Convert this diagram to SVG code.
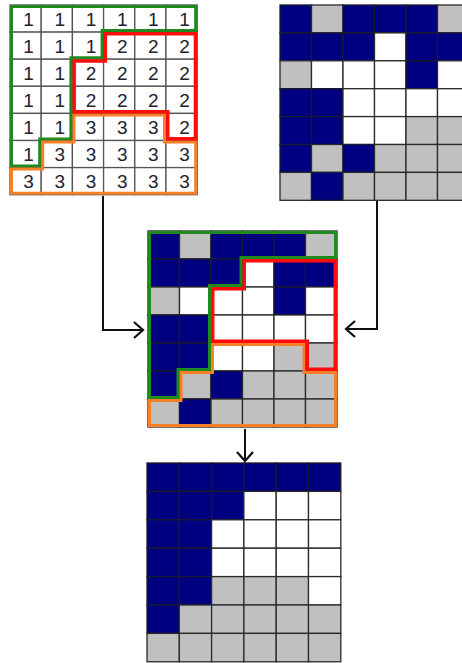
<svg xmlns="http://www.w3.org/2000/svg" width="462" height="663" viewBox="0 0 462 663">
<style>
.b{fill:#000080;stroke:#1a1a2a;stroke-width:1.3}
.g{fill:#c0c0c0;stroke:#2a2a2a;stroke-width:1.3}
.w{fill:#ffffff;stroke:#2a2a2a;stroke-width:1.3}
.tl{fill:#ffffff;stroke:#555555;stroke-width:1.3}
.n{font-family:"Liberation Sans",Arial,sans-serif;font-size:19px;fill:#222230;text-anchor:middle}
.rg{fill:none;stroke:#1f8a1f;stroke-width:6}
.rr{fill:none;stroke:#ff0d0d;stroke-width:7}
.ro{fill:none;stroke:#f77f25;stroke-width:6}
.arr{fill:none;stroke:#111111;stroke-width:2;marker-end:url(#chev)}
</style>
<defs>
<marker id="chev" viewBox="0 0 10 16" refX="9" refY="8" markerWidth="10" markerHeight="16" markerUnits="userSpaceOnUse" orient="auto" overflow="visible">
<path d="M0,0 L9,8 L0,16" fill="none" stroke="#111111" stroke-width="2.2"/>
</marker>
<clipPath id="tlG"><path id="ptlG" d="M10,5 H197.2 V32.1 H103.6 V59.2 H72.4 V140.5 H41.2 V167.6 H10 Z"/></clipPath>
<clipPath id="tlR"><path id="ptlR" d="M103.6,32.1 H197.2 V140.5 H166 V113.4 H72.4 V59.2 H103.6 Z"/></clipPath>
<clipPath id="tlO"><path id="ptlO" d="M72.4,113.4 H166 V140.5 H197.2 V194.7 H10 V167.6 H41.2 V140.5 H72.4 Z"/></clipPath>
<clipPath id="mG"><path id="pmG" d="M148,231 H337 V259 H242.5 V287 H211 V371 H179.5 V399 H148 Z"/></clipPath>
<clipPath id="mR"><path id="pmR" d="M242.5,259 H337 V371 H305.5 V343 H211 V287 H242.5 Z"/></clipPath>
<clipPath id="mO"><path id="pmO" d="M211,343 H305.5 V371 H337 V427 H148 V399 H179.5 V371 H211 Z"/></clipPath>
</defs>

<g id="labels-grid">
<rect class="tl" x="10" y="5" width="31.2" height="27.1"/><rect class="tl" x="41.2" y="5" width="31.2" height="27.1"/><rect class="tl" x="72.4" y="5" width="31.2" height="27.1"/><rect class="tl" x="103.6" y="5" width="31.2" height="27.1"/><rect class="tl" x="134.8" y="5" width="31.2" height="27.1"/><rect class="tl" x="166" y="5" width="31.2" height="27.1"/>
<rect class="tl" x="10" y="32.1" width="31.2" height="27.1"/><rect class="tl" x="41.2" y="32.1" width="31.2" height="27.1"/><rect class="tl" x="72.4" y="32.1" width="31.2" height="27.1"/><rect class="tl" x="103.6" y="32.1" width="31.2" height="27.1"/><rect class="tl" x="134.8" y="32.1" width="31.2" height="27.1"/><rect class="tl" x="166" y="32.1" width="31.2" height="27.1"/>
<rect class="tl" x="10" y="59.2" width="31.2" height="27.1"/><rect class="tl" x="41.2" y="59.2" width="31.2" height="27.1"/><rect class="tl" x="72.4" y="59.2" width="31.2" height="27.1"/><rect class="tl" x="103.6" y="59.2" width="31.2" height="27.1"/><rect class="tl" x="134.8" y="59.2" width="31.2" height="27.1"/><rect class="tl" x="166" y="59.2" width="31.2" height="27.1"/>
<rect class="tl" x="10" y="86.3" width="31.2" height="27.1"/><rect class="tl" x="41.2" y="86.3" width="31.2" height="27.1"/><rect class="tl" x="72.4" y="86.3" width="31.2" height="27.1"/><rect class="tl" x="103.6" y="86.3" width="31.2" height="27.1"/><rect class="tl" x="134.8" y="86.3" width="31.2" height="27.1"/><rect class="tl" x="166" y="86.3" width="31.2" height="27.1"/>
<rect class="tl" x="10" y="113.4" width="31.2" height="27.1"/><rect class="tl" x="41.2" y="113.4" width="31.2" height="27.1"/><rect class="tl" x="72.4" y="113.4" width="31.2" height="27.1"/><rect class="tl" x="103.6" y="113.4" width="31.2" height="27.1"/><rect class="tl" x="134.8" y="113.4" width="31.2" height="27.1"/><rect class="tl" x="166" y="113.4" width="31.2" height="27.1"/>
<rect class="tl" x="10" y="140.5" width="31.2" height="27.1"/><rect class="tl" x="41.2" y="140.5" width="31.2" height="27.1"/><rect class="tl" x="72.4" y="140.5" width="31.2" height="27.1"/><rect class="tl" x="103.6" y="140.5" width="31.2" height="27.1"/><rect class="tl" x="134.8" y="140.5" width="31.2" height="27.1"/><rect class="tl" x="166" y="140.5" width="31.2" height="27.1"/>
<rect class="tl" x="10" y="167.6" width="31.2" height="27.1"/><rect class="tl" x="41.2" y="167.6" width="31.2" height="27.1"/><rect class="tl" x="72.4" y="167.6" width="31.2" height="27.1"/><rect class="tl" x="103.6" y="167.6" width="31.2" height="27.1"/><rect class="tl" x="134.8" y="167.6" width="31.2" height="27.1"/><rect class="tl" x="166" y="167.6" width="31.2" height="27.1"/>
<text class="n" x="28.6" y="25.8">1</text><text class="n" x="59.8" y="25.8">1</text><text class="n" x="91" y="25.8">1</text><text class="n" x="122.2" y="25.8">1</text><text class="n" x="153.4" y="25.8">1</text><text class="n" x="184.6" y="25.8">1</text>
<text class="n" x="28.6" y="52.9">1</text><text class="n" x="59.8" y="52.9">1</text><text class="n" x="91" y="52.9">1</text><text class="n" x="122.2" y="52.9">2</text><text class="n" x="153.4" y="52.9">2</text><text class="n" x="184.6" y="52.9">2</text>
<text class="n" x="28.6" y="80">1</text><text class="n" x="59.8" y="80">1</text><text class="n" x="91" y="80">2</text><text class="n" x="122.2" y="80">2</text><text class="n" x="153.4" y="80">2</text><text class="n" x="184.6" y="80">2</text>
<text class="n" x="28.6" y="107.1">1</text><text class="n" x="59.8" y="107.1">1</text><text class="n" x="91" y="107.1">2</text><text class="n" x="122.2" y="107.1">2</text><text class="n" x="153.4" y="107.1">2</text><text class="n" x="184.6" y="107.1">2</text>
<text class="n" x="28.6" y="134.3">1</text><text class="n" x="59.8" y="134.3">1</text><text class="n" x="91" y="134.3">3</text><text class="n" x="122.2" y="134.3">3</text><text class="n" x="153.4" y="134.3">3</text><text class="n" x="184.6" y="134.3">2</text>
<text class="n" x="28.6" y="161.3">1</text><text class="n" x="59.8" y="161.3">3</text><text class="n" x="91" y="161.3">3</text><text class="n" x="122.2" y="161.3">3</text><text class="n" x="153.4" y="161.3">3</text><text class="n" x="184.6" y="161.3">3</text>
<text class="n" x="28.6" y="188.4">3</text><text class="n" x="59.8" y="188.4">3</text><text class="n" x="91" y="188.4">3</text><text class="n" x="122.2" y="188.4">3</text><text class="n" x="153.4" y="188.4">3</text><text class="n" x="184.6" y="188.4">3</text>
<use href="#ptlG" class="rg" clip-path="url(#tlG)"/>
<use href="#ptlO" class="ro" clip-path="url(#tlO)"/>
<use href="#ptlR" class="rr" clip-path="url(#tlR)"/>
</g>

<g id="source-grid">
<rect class="b" x="280" y="5" width="31.5" height="27.9"/><rect class="g" x="311.5" y="5" width="31.5" height="27.9"/><rect class="b" x="343" y="5" width="31.5" height="27.9"/><rect class="b" x="374.5" y="5" width="31.5" height="27.9"/><rect class="b" x="406" y="5" width="31.5" height="27.9"/><rect class="g" x="437.5" y="5" width="31.5" height="27.9"/>
<rect class="b" x="280" y="32.9" width="31.5" height="27.9"/><rect class="b" x="311.5" y="32.9" width="31.5" height="27.9"/><rect class="b" x="343" y="32.9" width="31.5" height="27.9"/><rect class="w" x="374.5" y="32.9" width="31.5" height="27.9"/><rect class="b" x="406" y="32.9" width="31.5" height="27.9"/><rect class="b" x="437.5" y="32.9" width="31.5" height="27.9"/>
<rect class="g" x="280" y="60.8" width="31.5" height="27.9"/><rect class="w" x="311.5" y="60.8" width="31.5" height="27.9"/><rect class="w" x="343" y="60.8" width="31.5" height="27.9"/><rect class="w" x="374.5" y="60.8" width="31.5" height="27.9"/><rect class="b" x="406" y="60.8" width="31.5" height="27.9"/><rect class="w" x="437.5" y="60.8" width="31.5" height="27.9"/>
<rect class="b" x="280" y="88.7" width="31.5" height="27.9"/><rect class="b" x="311.5" y="88.7" width="31.5" height="27.9"/><rect class="w" x="343" y="88.7" width="31.5" height="27.9"/><rect class="w" x="374.5" y="88.7" width="31.5" height="27.9"/><rect class="w" x="406" y="88.7" width="31.5" height="27.9"/><rect class="w" x="437.5" y="88.7" width="31.5" height="27.9"/>
<rect class="b" x="280" y="116.6" width="31.5" height="27.9"/><rect class="b" x="311.5" y="116.6" width="31.5" height="27.9"/><rect class="w" x="343" y="116.6" width="31.5" height="27.9"/><rect class="w" x="374.5" y="116.6" width="31.5" height="27.9"/><rect class="g" x="406" y="116.6" width="31.5" height="27.9"/><rect class="g" x="437.5" y="116.6" width="31.5" height="27.9"/>
<rect class="b" x="280" y="144.5" width="31.5" height="27.9"/><rect class="g" x="311.5" y="144.5" width="31.5" height="27.9"/><rect class="b" x="343" y="144.5" width="31.5" height="27.9"/><rect class="g" x="374.5" y="144.5" width="31.5" height="27.9"/><rect class="g" x="406" y="144.5" width="31.5" height="27.9"/><rect class="g" x="437.5" y="144.5" width="31.5" height="27.9"/>
<rect class="g" x="280" y="172.4" width="31.5" height="27.9"/><rect class="b" x="311.5" y="172.4" width="31.5" height="27.9"/><rect class="g" x="343" y="172.4" width="31.5" height="27.9"/><rect class="g" x="374.5" y="172.4" width="31.5" height="27.9"/><rect class="g" x="406" y="172.4" width="31.5" height="27.9"/><rect class="g" x="437.5" y="172.4" width="31.5" height="27.9"/>
</g>

<g id="overlay-grid">
<rect class="b" x="148" y="231" width="31.5" height="28"/><rect class="g" x="179.5" y="231" width="31.5" height="28"/><rect class="b" x="211" y="231" width="31.5" height="28"/><rect class="b" x="242.5" y="231" width="31.5" height="28"/><rect class="b" x="274" y="231" width="31.5" height="28"/><rect class="g" x="305.5" y="231" width="31.5" height="28"/>
<rect class="b" x="148" y="259" width="31.5" height="28"/><rect class="b" x="179.5" y="259" width="31.5" height="28"/><rect class="b" x="211" y="259" width="31.5" height="28"/><rect class="w" x="242.5" y="259" width="31.5" height="28"/><rect class="b" x="274" y="259" width="31.5" height="28"/><rect class="b" x="305.5" y="259" width="31.5" height="28"/>
<rect class="g" x="148" y="287" width="31.5" height="28"/><rect class="w" x="179.5" y="287" width="31.5" height="28"/><rect class="w" x="211" y="287" width="31.5" height="28"/><rect class="w" x="242.5" y="287" width="31.5" height="28"/><rect class="b" x="274" y="287" width="31.5" height="28"/><rect class="w" x="305.5" y="287" width="31.5" height="28"/>
<rect class="b" x="148" y="315" width="31.5" height="28"/><rect class="b" x="179.5" y="315" width="31.5" height="28"/><rect class="w" x="211" y="315" width="31.5" height="28"/><rect class="w" x="242.5" y="315" width="31.5" height="28"/><rect class="w" x="274" y="315" width="31.5" height="28"/><rect class="w" x="305.5" y="315" width="31.5" height="28"/>
<rect class="b" x="148" y="343" width="31.5" height="28"/><rect class="b" x="179.5" y="343" width="31.5" height="28"/><rect class="w" x="211" y="343" width="31.5" height="28"/><rect class="w" x="242.5" y="343" width="31.5" height="28"/><rect class="g" x="274" y="343" width="31.5" height="28"/><rect class="g" x="305.5" y="343" width="31.5" height="28"/>
<rect class="b" x="148" y="371" width="31.5" height="28"/><rect class="g" x="179.5" y="371" width="31.5" height="28"/><rect class="b" x="211" y="371" width="31.5" height="28"/><rect class="g" x="242.5" y="371" width="31.5" height="28"/><rect class="g" x="274" y="371" width="31.5" height="28"/><rect class="g" x="305.5" y="371" width="31.5" height="28"/>
<rect class="g" x="148" y="399" width="31.5" height="28"/><rect class="b" x="179.5" y="399" width="31.5" height="28"/><rect class="g" x="211" y="399" width="31.5" height="28"/><rect class="g" x="242.5" y="399" width="31.5" height="28"/><rect class="g" x="274" y="399" width="31.5" height="28"/><rect class="g" x="305.5" y="399" width="31.5" height="28"/>
<use href="#pmG" class="rg" clip-path="url(#mG)"/>
<use href="#pmO" class="ro" clip-path="url(#mO)"/>
<use href="#pmR" class="rr" clip-path="url(#mR)"/>
</g>

<g id="result-grid">
<rect class="b" x="147" y="463" width="32.3" height="28.4"/><rect class="b" x="179.3" y="463" width="32.3" height="28.4"/><rect class="b" x="211.6" y="463" width="32.3" height="28.4"/><rect class="b" x="243.9" y="463" width="32.3" height="28.4"/><rect class="b" x="276.2" y="463" width="32.3" height="28.4"/><rect class="b" x="308.5" y="463" width="32.3" height="28.4"/>
<rect class="b" x="147" y="491.4" width="32.3" height="28.4"/><rect class="b" x="179.3" y="491.4" width="32.3" height="28.4"/><rect class="b" x="211.6" y="491.4" width="32.3" height="28.4"/><rect class="w" x="243.9" y="491.4" width="32.3" height="28.4"/><rect class="w" x="276.2" y="491.4" width="32.3" height="28.4"/><rect class="w" x="308.5" y="491.4" width="32.3" height="28.4"/>
<rect class="b" x="147" y="519.8" width="32.3" height="28.4"/><rect class="b" x="179.3" y="519.8" width="32.3" height="28.4"/><rect class="w" x="211.6" y="519.8" width="32.3" height="28.4"/><rect class="w" x="243.9" y="519.8" width="32.3" height="28.4"/><rect class="w" x="276.2" y="519.8" width="32.3" height="28.4"/><rect class="w" x="308.5" y="519.8" width="32.3" height="28.4"/>
<rect class="b" x="147" y="548.2" width="32.3" height="28.4"/><rect class="b" x="179.3" y="548.2" width="32.3" height="28.4"/><rect class="w" x="211.6" y="548.2" width="32.3" height="28.4"/><rect class="w" x="243.9" y="548.2" width="32.3" height="28.4"/><rect class="w" x="276.2" y="548.2" width="32.3" height="28.4"/><rect class="w" x="308.5" y="548.2" width="32.3" height="28.4"/>
<rect class="b" x="147" y="576.6" width="32.3" height="28.4"/><rect class="b" x="179.3" y="576.6" width="32.3" height="28.4"/><rect class="g" x="211.6" y="576.6" width="32.3" height="28.4"/><rect class="g" x="243.9" y="576.6" width="32.3" height="28.4"/><rect class="g" x="276.2" y="576.6" width="32.3" height="28.4"/><rect class="w" x="308.5" y="576.6" width="32.3" height="28.4"/>
<rect class="b" x="147" y="605" width="32.3" height="28.4"/><rect class="g" x="179.3" y="605" width="32.3" height="28.4"/><rect class="g" x="211.6" y="605" width="32.3" height="28.4"/><rect class="g" x="243.9" y="605" width="32.3" height="28.4"/><rect class="g" x="276.2" y="605" width="32.3" height="28.4"/><rect class="g" x="308.5" y="605" width="32.3" height="28.4"/>
<rect class="g" x="147" y="633.4" width="32.3" height="28.4"/><rect class="g" x="179.3" y="633.4" width="32.3" height="28.4"/><rect class="g" x="211.6" y="633.4" width="32.3" height="28.4"/><rect class="g" x="243.9" y="633.4" width="32.3" height="28.4"/><rect class="g" x="276.2" y="633.4" width="32.3" height="28.4"/><rect class="g" x="308.5" y="633.4" width="32.3" height="28.4"/>
</g>

<g id="connectors">
<path class="arr" d="M103,196 V330 H143"/>
<path class="arr" d="M377,201 V329 H346"/>
<path class="arr" d="M245,429 V461"/>
</g>
</svg>
